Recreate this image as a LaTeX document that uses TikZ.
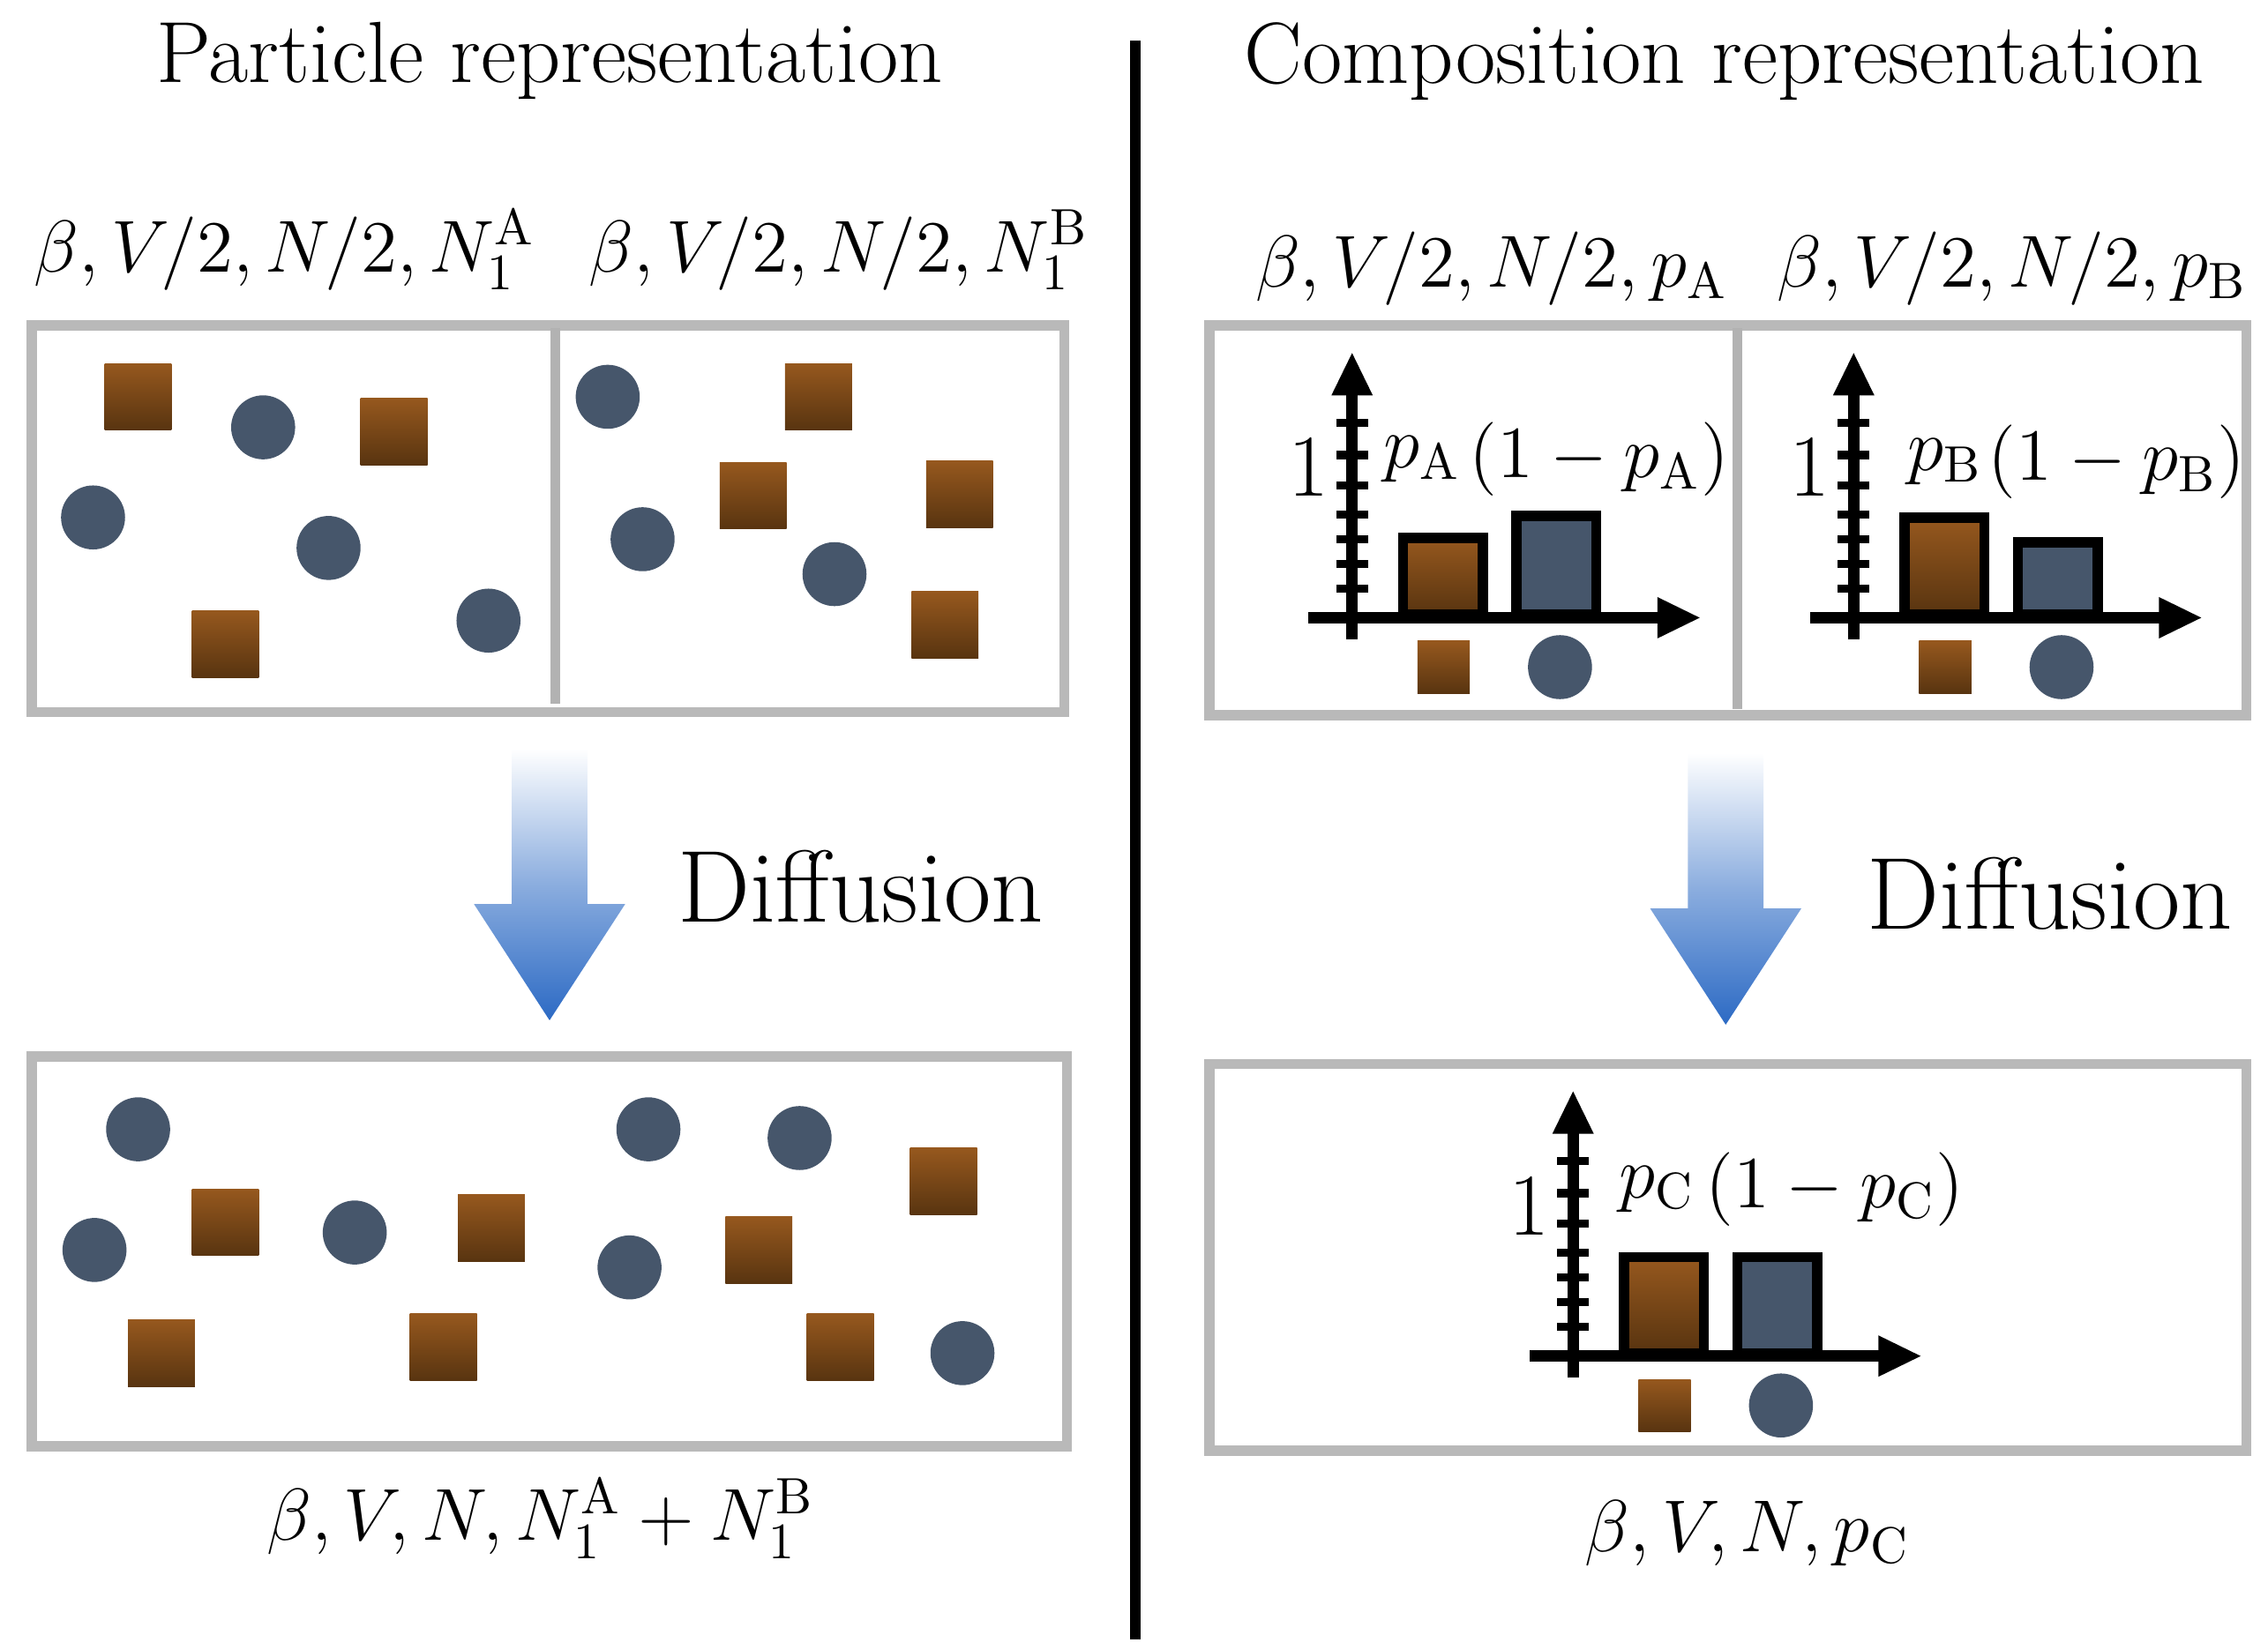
\documentclass[tikz,border=0pt]{standalone}
\usepackage{amsmath,amssymb}
\usepackage{xcolor}
\usepackage{tikz}
\usetikzlibrary{arrows.meta,positioning,shadows}

\definecolor{rust}{RGB}{150,88,30}
\definecolor{rustdark}{RGB}{88,52,16}
\definecolor{slate}{RGB}{70,86,107}
\definecolor{flowblue}{RGB}{44,106,196}

\tikzset{
    box/.style={draw=gray!55, line width=2pt, fill=white, drop shadow={opacity=0.25, shadow xshift=1pt, shadow yshift=-1pt}},
    grain/.style={rectangle, minimum size=0.46cm, inner sep=0pt, top color=rust, bottom color=rustdark},
    blob/.style={circle, minimum size=0.44cm, inner sep=0pt, fill=slate},
    lbl/.style={font=\fontsize{13.6}{16}\selectfont, inner sep=0pt},
    ttl/.style={font=\fontsize{17}{20}\selectfont, inner sep=0pt},
    bigword/.style={font=\fontsize{20}{24}\selectfont, inner sep=0pt},
    axis/.style={line width=2.2pt, -{Triangle[length=3mm, width=2.6mm]}},
    bar/.style={draw=black, line width=2pt}
}

\newcommand{\flowarrow}[2]{% x of centre, y of top
    \shade[top color=white, bottom color=flowblue, middle color=flowblue!55]
        (#1-26,#2) -- (#1+26,#2) -- (#1+26,#2+107) -- (#1+52,#2+107)
        -- (#1,#2+187) -- (#1-52,#2+107) -- (#1-26,#2+107) -- cycle;}

\newcommand{\histo}[5]{% axis x, axis y, left bar height, right bar height, name
    \coordinate (#5o) at (#1,#2);
    \coordinate (#5b) at (#1,#2+15);
    \coordinate (#5t) at (#1,#2-183);
    \coordinate (#5l) at (#1-30,#2);
    \coordinate (#5r) at (#1+240,#2);
    \foreach \ty in {20,37,54,71,91,112,134}
        \draw[line width=1.6pt] (#1-11,#2-\ty) -- (#1+11,#2-\ty);
    \draw[axis] (#5b) -- (#5t);
    \draw[axis] (#5l) -- (#5r);
    \filldraw[bar, top color=rust, bottom color=rustdark] (#1+35,#2-2) rectangle (#1+90,#2-2-#3);
    \filldraw[bar, fill=slate] (#1+113,#2-2) rectangle (#1+168,#2-2-#4);
    \node[grain, minimum size=0.36cm] (#5g) at (#1+63,#2+34) {};
    \node[blob] (#5c) at (#1+143,#2+34) {};
    \node[lbl, font=\fontsize{16}{18}\selectfont] (#5one) at (#1-30,#2-103) {$1$};}

\begin{document}
\begin{tikzpicture}[x=0.01cm, y=-0.01cm]
    \useasboundingbox (0,0) rectangle (1560,1135);

    % headings and the separating rule
    \node[ttl] (ptitle) at (378,42) {Particle representation};
    \node[ttl] (ctitle) at (1186,42) {Composition representation};
    \coordinate (rtop) at (781,28);
    \coordinate (rbot) at (781,1128);
    \draw[line width=2pt] (rtop) -- (rbot);

    % particle picture, before
    \node[lbl] (lA) at (196,172) {$\beta, V/2, N/2, N_1^{\mathrm{A}}$};
    \node[lbl] (lB) at (577,172) {$\beta, V/2, N/2, N_1^{\mathrm{B}}$};
    \draw[box] (22,224) rectangle (732,490);
    \draw[draw=gray!60, line width=2pt] (382,226) -- (382,484);
    \foreach \px/\py [count=\i] in {95/273,271/297,155/443,563/273,518/341,660/340,650/430}
        \node[grain] (sa\i) at (\px,\py) {};
    \foreach \px/\py [count=\i] in {181/294,64/356,226/377,336/427,418/273,442/371,574/395}
        \node[blob] (ca\i) at (\px,\py) {};

    \flowarrow{378}{515}
    \node[bigword] (dl) at (592,610) {Diffusion};

    % particle picture, after
    \draw[box] (22,727) rectangle (734,995);
    \foreach \px/\py [count=\i] in {155/841,338/845,111/931,305/927,522/860,649/813,578/927}
        \node[grain] (sb\i) at (\px,\py) {};
    \foreach \px/\py [count=\i] in {95/777,65/860,244/848,446/777,550/783,433/872,662/931}
        \node[blob] (cb\i) at (\px,\py) {};
    \node[lbl] (lAB) at (372,1045) {$\beta, V, N, N_1^{\mathrm{A}} + N_1^{\mathrm{B}}$};

    % composition picture, before
    \node[lbl] (cA) at (1026,185) {$\beta, V/2, N/2, p_{\mathrm{A}}$};
    \node[lbl] (cB) at (1384,185) {$\beta, V/2, N/2, p_{\mathrm{B}}$};
    \draw[box] (832,224) rectangle (1545,492);
    \draw[draw=gray!60, line width=2pt] (1195,226) -- (1195,488);
    \histo{930}{425}{53}{68}{ha}
    \node[lbl] (hap) at (978,316) {$p_{\mathrm{A}}$};
    \node[lbl] (haq) at (1100,316) {$(1-p_{\mathrm{A}})$};
    \histo{1275}{425}{67}{50}{hb}
    \node[lbl] (hbp) at (1338,318) {$p_{\mathrm{B}}$};
    \node[lbl] (hbq) at (1456,318) {$(1-p_{\mathrm{B}})$};

    \flowarrow{1187}{518}
    \node[bigword] (dr) at (1410,615) {Diffusion};

    % composition picture, after
    \draw[box] (832,732) rectangle (1545,998);
    \histo{1082}{933}{66}{66}{hc}
    \node[lbl] (hcp) at (1140,818) {$p_{\mathrm{C}}$};
    \node[lbl] (hcq) at (1262,818) {$(1-p_{\mathrm{C}})$};
    \node[lbl] (lC) at (1202,1055) {$\beta, V, N, p_{\mathrm{C}}$};
\end{tikzpicture}
\end{document}
